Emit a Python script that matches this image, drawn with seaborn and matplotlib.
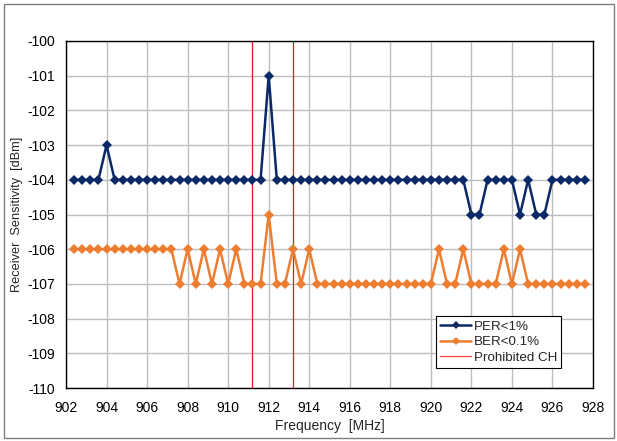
import matplotlib
matplotlib.use("Agg")
import matplotlib.pyplot as plt
import seaborn as sns
import pandas as pd
from matplotlib.lines import Line2D
from matplotlib.patches import Rectangle

freq = [902.4, 902.8, 903.2, 903.6, 904.0, 904.4, 904.8, 905.2, 905.6, 906.0,
        906.4, 906.8, 907.2, 907.6, 908.0, 908.4, 908.8, 909.2, 909.6, 910.0,
        910.4, 910.8, 911.2, 911.6, 912.0, 912.4, 912.8, 913.2, 913.6, 914.0,
        914.4, 914.8, 915.2, 915.6, 916.0, 916.4, 916.8, 917.2, 917.6, 918.0,
        918.4, 918.8, 919.2, 919.6, 920.0, 920.4, 920.8, 921.2, 921.6, 922.0,
        922.4, 922.8, 923.2, 923.6, 924.0, 924.4, 924.8, 925.2, 925.6, 926.0,
        926.4, 926.8, 927.2, 927.6]

per = [-104, -104, -104, -104, -103, -104, -104, -104, -104, -104,
       -104, -104, -104, -104, -104, -104, -104, -104, -104, -104,
       -104, -104, -104, -104, -101, -104, -104, -104, -104, -104,
       -104, -104, -104, -104, -104, -104, -104, -104, -104, -104,
       -104, -104, -104, -104, -104, -104, -104, -104, -104, -105,
       -105, -104, -104, -104, -104, -105, -104, -105, -105, -104,
       -104, -104, -104, -104]

ber = [-106, -106, -106, -106, -106, -106, -106, -106, -106, -106,
       -106, -106, -106, -107, -106, -107, -106, -107, -106, -107,
       -106, -107, -107, -107, -105, -107, -107, -106, -107, -106,
       -107, -107, -107, -107, -107, -107, -107, -107, -107, -107,
       -107, -107, -107, -107, -107, -106, -107, -107, -106, -107,
       -107, -107, -107, -106, -107, -106, -107, -107, -107, -107,
       -107, -107, -107, -107]

prohibited = [911.2, 913.2]
series_names = ["PER<1%", "BER<0.1%"]
legend_labels = ["PER<1%", "BER<0.1%", "Prohibited CH"]
x_ticks = [902, 904, 906, 908, 910, 912, 914, 916, 918, 920, 922, 924, 926, 928]
y_ticks = [-110, -109, -108, -107, -106, -105, -104, -103, -102, -101, -100]

df = pd.concat([
    pd.DataFrame({"freq": freq, "val": per, "series": series_names[0]}),
    pd.DataFrame({"freq": freq, "val": ber, "series": series_names[1]}),
])

sns.set_style("white")
plt.rcParams["font.family"] = ["Liberation Sans", "DejaVu Sans"]

W, H = 617, 441
fig = plt.figure(figsize=(W / 100, H / 100), dpi=100)
ax = fig.add_axes([66 / W, 1 - 388 / H, (593 - 66) / W, (388 - 41) / H])

colors = {"PER<1%": "#0B2867", "BER<0.1%": "#ED7D31"}
sns.lineplot(data=df, x="freq", y="val", hue="series", palette=colors,
             marker="D", markersize=4.8, markeredgewidth=0, linewidth=1.8,
             ax=ax, legend=False)

for p in prohibited:
    ax.axvline(p, color="#E8141E", linewidth=0.9, zorder=1)

ax.set_xlim(902, 928)
ax.set_ylim(-110, -100)
ax.set_xticks(x_ticks)
ax.set_yticks(y_ticks)
ax.set_xticklabels([str(t) for t in x_ticks])
ax.set_yticklabels([str(t) for t in y_ticks])
ax.grid(True, color="#BDBDBD", linewidth=1.0)
ax.set_axisbelow(True)
for s in ax.spines.values():
    s.set_color("black")
    s.set_linewidth(1.0)
ax.tick_params(direction="in", length=4, width=1, labelsize=10, colors="black")
ax.tick_params(axis="x", pad=9)
ax.tick_params(axis="y", pad=8)
ax.set_xlabel("Frequency  [MHz]", fontsize=10, labelpad=3)
ax.set_ylabel("Receiver  Sensitivity  [dBm]", fontsize=9.2)
ax.yaxis.set_label_coords(-0.081, 0.5)

handles = [
    Line2D([0], [0], color=colors["PER<1%"], marker="D", markersize=4.2, markeredgewidth=0, linewidth=1.8),
    Line2D([0], [0], color=colors["BER<0.1%"], marker="D", markersize=4.2, markeredgewidth=0, linewidth=1.8),
    Line2D([0], [0], color="#FF4040", linewidth=0.9),
]
leg = ax.legend(handles, legend_labels,
                loc="lower right", bbox_to_anchor=((561 - 66) / 527, (388 - 368) / 347),
                fontsize=9.6, frameon=True, fancybox=False, framealpha=1,
                edgecolor="black", handlelength=2.3, handletextpad=0.2,
                borderpad=0.3, labelspacing=0.25, borderaxespad=0)
leg.get_frame().set_linewidth(0.8)

fig.patches.append(Rectangle((3.5 / W, 3.5 / H), (W - 7) / W, (H - 7) / H,
                             transform=fig.transFigure, fill=False,
                             edgecolor="#7F7F7F", linewidth=1.0))

fig.savefig("out.png", dpi=100)
